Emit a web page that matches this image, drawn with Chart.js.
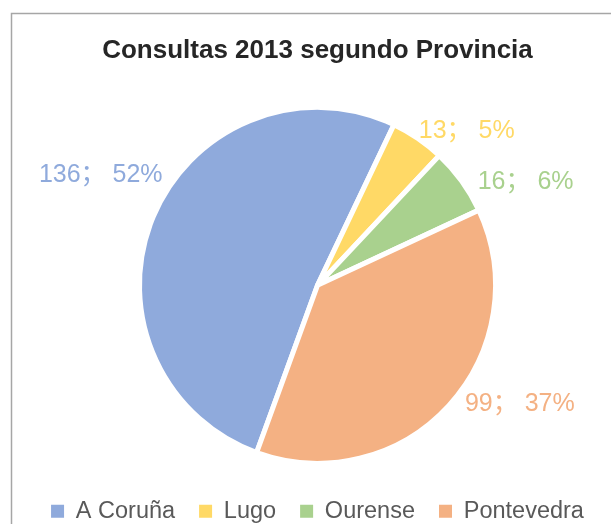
<!DOCTYPE html>
<html>
<head>
<meta charset="utf-8">
<script src="https://cdn.jsdelivr.net/npm/chart.js@4.4.0/dist/chart.umd.min.js"></script>
<style>
  html, body { margin: 0; padding: 0; background: #fff; overflow: hidden; }
  #wrap { width: 611px; height: 533px; }
</style>
</head>
<body>
<div id="wrap"><canvas id="provChart" width="611" height="533"></canvas></div>
<script>
// Consultas por provincia (2013)
var provincias = ['A Coruña', 'Lugo', 'Ourense', 'Pontevedra'];
var consultas = [136, 13, 16, 99];
var porcentaxes = [52, 5, 6, 37];
var cores = ['#8FAADC', '#FFD966', '#A9D18E', '#F4B183'];

var fonte = '"Liberation Sans", Arial, "Noto Sans CJK SC", sans-serif';

// grey frame of the chart box
var marco = {
    id: 'marco',
    beforeDraw: function(chart) {
        var ctx = chart.ctx;
        ctx.save();
        ctx.strokeStyle = '#a6a6a6';
        ctx.lineWidth = 1.5;
        ctx.strokeRect(11.5, 13.5, 900, 900);
        ctx.restore();
    }
};

// value ; percent labels next to each slice
// (shift = small angle nudge in degrees, like Excel's best fit)
var etiquetas = {
    id: 'etiquetas',
    afterDatasetsDraw: function(chart, args, opts) {
        var ctx = chart.ctx;
        var meta = chart.getDatasetMeta(0);
        var shift = opts.shift || [];
        ctx.save();
        ctx.font = '25px ' + fonte;
        ctx.textBaseline = 'middle';
        meta.data.forEach(function(arc, i) {
            var p = arc.getProps(['x', 'y', 'startAngle', 'endAngle', 'outerRadius'], true);
            var mid = (p.startAngle + p.endAngle) / 2 + (shift[i] || 0) * Math.PI / 180;
            var r = p.outerRadius - 2.5;
            var ex = p.x + Math.cos(mid) * r;
            var ey = p.y + Math.sin(mid) * r;
            var txt = consultas[i] + '\uFF1B ' + porcentaxes[i] + '%';
            ctx.fillStyle = cores[i];
            if (Math.cos(mid) >= 0) {
                ctx.textAlign = 'left';
                ctx.fillText(txt, ex + opts.gap, ey);
            } else {
                ctx.textAlign = 'right';
                ctx.fillText(txt, ex - opts.gap, ey);
            }
        });
        ctx.restore();
    }
};

var ctx = document.getElementById('provChart').getContext('2d');

var provChart = new Chart(ctx, {
    type: 'pie',
    data: {
        labels: provincias,
        datasets: [{
            data: consultas,
            backgroundColor: cores,
            borderColor: '#ffffff',
            borderWidth: 5
        }]
    },
    options: {
        responsive: false,
        animation: false,
        rotation: 200,
        radius: 178,
        layout: {
            padding: { left: 24 }
        },
        plugins: {
            title: {
                display: true,
                text: 'Consultas 2013 segundo Provincia',
                color: '#262626',
                font: { family: fonte, size: 26, weight: 'bold' },
                padding: { top: 35, bottom: 29 }
            },
            legend: {
                position: 'bottom',
                labels: {
                    color: '#595959',
                    font: { family: fonte, size: 23.5 },
                    boxWidth: 13,
                    boxHeight: 13,
                    padding: 24,
                    generateLabels: function(chart) {
                        var items = Chart.overrides.pie.plugins.legend.labels.generateLabels(chart);
                        items.forEach(function(it) {
                            it.lineWidth = 0;
                            it.strokeStyle = it.fillStyle;
                        });
                        return items;
                    }
                }
            },
            etiquetas: {
                gap: 18,
                shift: [16, -6, 0, 0]
            },
            tooltip: { enabled: false }
        }
    },
    plugins: [marco, etiquetas]
});
</script>
</body>
</html>
